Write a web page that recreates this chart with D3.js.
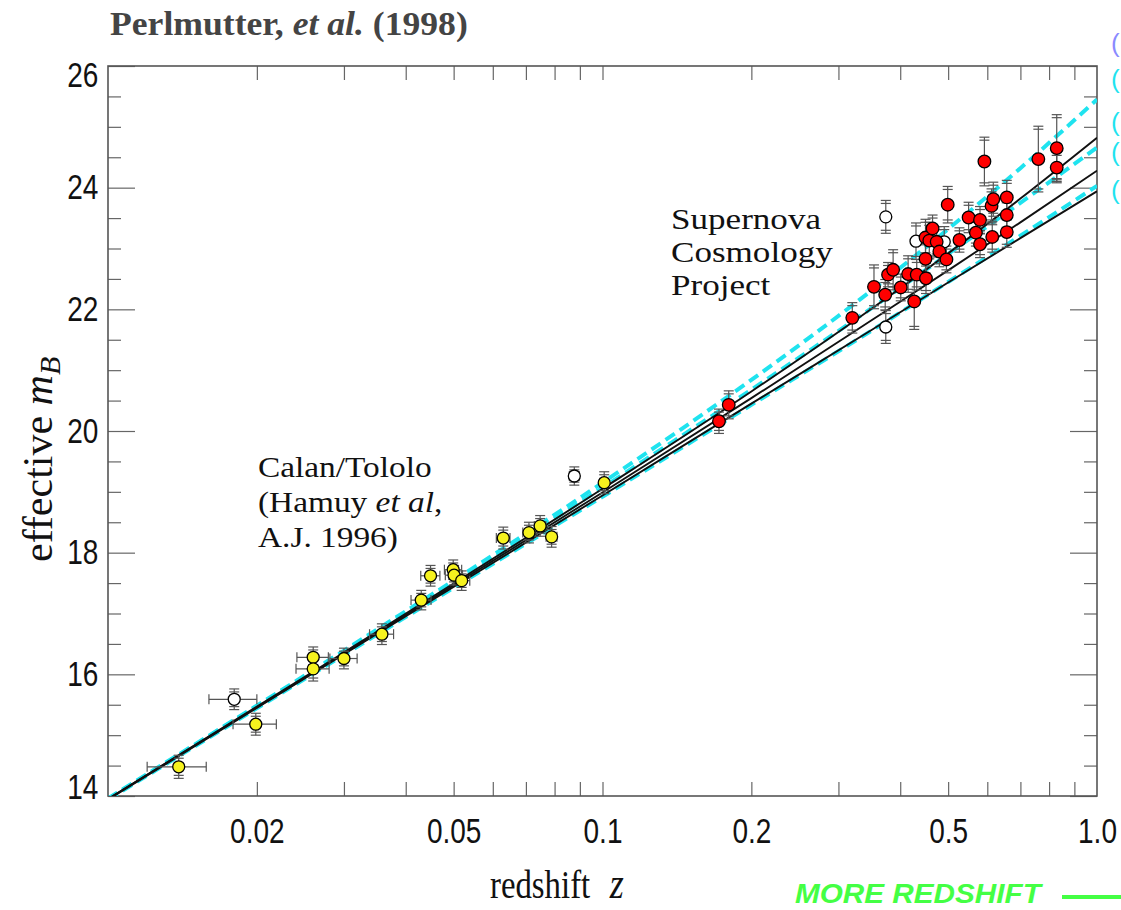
<!DOCTYPE html>
<html><head><meta charset="utf-8">
<script src="https://cdn.jsdelivr.net/npm/d3@7"></script>
<style>
html,body{margin:0;padding:0;background:#fff;overflow:hidden;}
svg{display:block;}
</style></head><body>
<svg id="chart" width="1121" height="910"></svg>
<script>
// ---------------- data ----------------
const xLabelValues = [0.02, 0.05, 0.1, 0.2, 0.5, 1.0];
const xLabelTexts  = ["0.02", "0.05", "0.1", "0.2", "0.5", "1.0"];
const xMinorTicks  = [0.02,0.03,0.04,0.05,0.06,0.07,0.08,0.09,0.1,0.2,0.3,0.4,0.5,0.6,0.7,0.8,0.9];
const yMajorTicks  = [14, 16, 18, 20, 22, 24, 26];
const yMinorTicks  = [14.5,15,15.5,16.5,17,17.5,18.5,19,19.5,20.5,21,21.5,22.5,23,23.5,24.5,25,25.5];

// model curves: redshift grid and effective m_B
const curveZ      = [0.01, 0.03, 0.1, 0.2, 0.35, 0.5, 0.7, 1.0];
const solidA      = [13.95, 16.36, 19.05, 20.65, 22.01, 22.92, 23.82, 24.82];
const solidB      = [13.95, 16.34, 18.99, 20.54, 21.82, 22.64, 23.43, 24.28];
const solidC      = [13.94, 16.33, 18.94, 20.45, 21.66, 22.44, 23.17, 23.94];
const dashedA     = [13.96, 16.39, 19.15, 20.84, 22.31, 23.32, 24.32, 25.45];
const dashedB     = [13.95, 16.37, 19.07, 20.68, 22.02, 22.91, 23.75, 24.66];
const dashedC     = [13.94, 16.32, 18.92, 20.43, 21.65, 22.45, 23.21, 24.03];

// Calan/Tololo (yellow) : z, m_B, z-error, m-error
const ctZ    = [0.0139,0.0199,0.0260,0.0260,0.0300,0.0358,0.0430,0.0449,0.0499,0.0501,0.0519,0.0630,0.0710,0.0748,0.0789,0.1008];
const ctM    = [14.48, 15.18, 16.28, 16.09, 16.26, 16.66, 17.22, 17.62, 17.72, 17.63, 17.54, 18.24, 18.33, 18.44, 18.26, 19.15];
const ctZerr = [0.0019,0.0020,0.0019,0.0020,0.0019,0.0020,0.0020,0.0020,0.0020,0.0020,0.0020,0.0020,0.0020,0.0020,0.0020,0.0020];
const ctMerr = [0.19, 0.18, 0.17, 0.20, 0.17, 0.17, 0.16, 0.17, 0.16, 0.16, 0.16, 0.18, 0.17, 0.17, 0.17, 0.18];

// Supernova Cosmology Project (red)
const scpZ    = [0.172,0.180,0.320,0.354,0.373,0.378,0.387,0.401,0.415,0.427,0.432,0.450,0.451,0.450,0.458,0.465,0.474,0.480,0.496,0.499,0.527,0.550,0.569,0.580,0.580,0.592,0.612,0.614,0.617,0.657,0.657,0.657,0.761,0.829,0.829];
const scpM    = [20.16,20.43,21.86,22.37,22.24,22.57,22.65,22.36,22.58,22.13,22.57,22.83,22.51,23.18,23.13,23.33,23.11,22.95,22.82,23.72,23.14,23.51,23.26,23.47,23.07,24.43,23.70,23.19,23.81,23.84,23.55,23.27,24.47,24.65,24.33];
const scpMerr = [0.20, 0.23, 0.25, 0.36, 0.25, 0.20, 0.33, 0.22, 0.30, 0.46, 0.25, 0.28, 0.25, 0.30, 0.30, 0.22, 0.25, 0.25, 0.22, 0.30, 0.20, 0.25, 0.22, 0.22, 0.22, 0.40, 0.28, 0.25, 0.28, 0.28, 0.25, 0.25, 0.54, 0.55, 0.25];

// open circles (excluded / outlier SNe)
const openZ    = [0.0180, 0.0877, 0.374, 0.374, 0.4305, 0.491];
const openM    = [15.59, 19.26, 23.52, 21.71, 23.12, 23.11];
const openZerr = [0.0020, 0.0020, 0, 0, 0, 0];
const openMerr = [0.17, 0.15, 0.27, 0.27, 0.30, 0.25];

// legend stubs (cut by the right edge in the reference)
const legendY   = [52, 88, 131, 161, 199];
const legendTxt = ["(", "(", "(", "(", "("];
const legendCol = ["#8a8aff", "#1fe3ef", "#1fe3ef", "#1fe3ef", "#1fe3ef"];

// ---------------- drawing ----------------
const svg = d3.select("#chart");
const L = 108, R = 1097, T = 66, B = 796;
const x = d3.scaleLog().domain([0.01, 1.0]).range([L, R]);
const y = d3.scaleLinear().domain([14, 26]).range([B, T]);

const serif = "'Liberation Serif','Times New Roman',Times,serif";
const sans = "'Liberation Sans',Arial,Helvetica,sans-serif";

svg.append("defs").append("clipPath").attr("id","plotclip")
  .append("rect").attr("x",L).attr("y",T).attr("width",R-L).attr("height",B-T);

// axes ticks
const tickCol = "#666";
function cleanAxis(g){ g.select(".domain").remove(); g.selectAll("line").attr("stroke",tickCol).attr("stroke-width",1.2); }

svg.append("g").attr("transform",`translate(0,${B})`)
  .call(d3.axisBottom(x).tickValues(xMinorTicks).tickSize(-14).tickFormat(""))
  .call(cleanAxis);
svg.append("g").attr("transform",`translate(0,${T})`)
  .call(d3.axisTop(x).tickValues(xMinorTicks).tickSize(-14).tickFormat(""))
  .call(cleanAxis);

const xl = svg.append("g").attr("transform",`translate(0,${B})`)
  .call(d3.axisBottom(x).tickValues(xLabelValues).tickSize(0).tickPadding(22)
        .tickFormat((d,i)=>xLabelTexts[i]))
  .call(g=>g.select(".domain").remove());
xl.selectAll("text").attr("font-family",sans).attr("font-size",35).attr("fill","#111")
  .attr("transform","scale(0.8,1)");

svg.append("g").attr("transform",`translate(${L},0)`)
  .call(d3.axisLeft(y).tickValues(yMinorTicks).tickSize(-13).tickFormat(""))
  .call(cleanAxis);
svg.append("g").attr("transform",`translate(${R},0)`)
  .call(d3.axisRight(y).tickValues(yMinorTicks).tickSize(-13).tickFormat(""))
  .call(cleanAxis);
svg.append("g").attr("transform",`translate(${R},0)`)
  .call(d3.axisRight(y).tickValues(yMajorTicks).tickSize(-27).tickFormat(""))
  .call(cleanAxis);
const yl = svg.append("g").attr("transform",`translate(${L},0)`)
  .call(d3.axisLeft(y).tickValues(yMajorTicks).tickSize(-27).tickPadding(12).tickFormat(d3.format("d")))
  .call(cleanAxis);
yl.selectAll("text").attr("font-family",sans).attr("font-size",35).attr("fill","#111")
  .attr("transform","scale(0.8,1)")
  .attr("dy", d => d===26 ? "0.58em" : d===14 ? "0.06em" : "0.32em");

// frame
svg.append("rect").attr("x",L).attr("y",T).attr("width",R-L).attr("height",B-T)
  .attr("fill","none").attr("stroke","#555").attr("stroke-width",1.6);

// model curves
const plot = svg.append("g").attr("clip-path","url(#plotclip)");
const lineGen = d3.line().x(d=>x(d[0])).y(d=>y(d[1])).curve(d3.curveMonotoneX);
[dashedA, dashedB, dashedC].forEach(arr=>{
  plot.append("path").datum(curveZ.map((z,i)=>[z,arr[i]]))
    .attr("d",lineGen).attr("fill","none").attr("stroke","#1fe3ef")
    .attr("stroke-width",4).attr("stroke-dasharray","11,6");
});
[solidA, solidB, solidC].forEach(arr=>{
  plot.append("path").datum(curveZ.map((z,i)=>[z,arr[i]]))
    .attr("d",lineGen).attr("fill","none").attr("stroke","#111")
    .attr("stroke-width",1.9);
});

// error bars
const errCol = "#555";
const eb = svg.append("g").attr("stroke",errCol).attr("stroke-width",1.2).attr("fill","none");
function vErr(z, m, dm){
  const cx = x(z), y1 = y(m+dm), y2 = y(m-dm);
  eb.append("line").attr("x1",cx).attr("x2",cx).attr("y1",y1).attr("y2",y2);
  [[y1,3],[y2,-3]].forEach(([yy,s])=>{
    eb.append("line").attr("x1",cx-5).attr("x2",cx+5).attr("y1",yy).attr("y2",yy);
    eb.append("line").attr("x1",cx-5).attr("x2",cx+5).attr("y1",yy+s).attr("y2",yy+s);
  });
}
function hErr(z, m, dz){
  if(!dz) return;
  const cy = y(m), x1 = x(z-dz), x2 = x(z+dz);
  eb.append("line").attr("x1",x1).attr("x2",x2).attr("y1",cy).attr("y2",cy);
  [x1,x2].forEach(xx=>eb.append("line").attr("x1",xx).attr("x2",xx).attr("y1",cy-5).attr("y2",cy+5));
}
ctZ.forEach((z,i)=>{ hErr(z,ctM[i],ctZerr[i]); vErr(z,ctM[i],ctMerr[i]); });
openZ.forEach((z,i)=>{ hErr(z,openM[i],openZerr[i]); vErr(z,openM[i],openMerr[i]); });
scpZ.forEach((z,i)=>{ vErr(z,scpM[i],scpMerr[i]); });

// points
const pts = svg.append("g").attr("stroke","#000").attr("stroke-width",1.3);
pts.selectAll(".ct").data(ctZ).join("circle")
  .attr("cx",d=>x(d)).attr("cy",(d,i)=>y(ctM[i])).attr("r",6).attr("fill","#f6f21e");
pts.selectAll(".op").data(openZ).join("circle")
  .attr("cx",d=>x(d)).attr("cy",(d,i)=>y(openM[i])).attr("r",6).attr("fill","#fff");
pts.selectAll(".scp").data(scpZ).join("circle")
  .attr("cx",d=>x(d)).attr("cy",(d,i)=>y(scpM[i])).attr("r",6.3).attr("fill","#ff0000");

// title
const title = svg.append("text").attr("transform","translate(110,35) scale(1.08,1)")
  .attr("font-family",serif).attr("font-weight","bold").attr("font-size",33).attr("fill","#444");
title.append("tspan").text("Perlmutter, ");
title.append("tspan").attr("font-style","italic").text("et al.");
title.append("tspan").text(" (1998)");

// axis titles
const yt = svg.append("text").attr("transform","translate(52,562) rotate(-90)")
  .attr("font-family",serif).attr("font-size",42).attr("fill","#111");
yt.append("tspan").text("effective ");
yt.append("tspan").attr("font-style","italic").text("m");
yt.append("tspan").attr("font-style","italic").attr("font-size",30).attr("dy",8).text("B");

const xt = svg.append("text").attr("transform","translate(490,898) scale(0.82,1)")
  .attr("font-family",serif).attr("font-size",40).attr("fill","#111");
xt.append("tspan").text("redshift");
xt.append("tspan").attr("dx",24).attr("font-style","italic").attr("font-size",44).text("z");

// annotations
function block(x0, y0, lh, sx, lines){
  lines.forEach((parts,k)=>{
    const t = svg.append("text").attr("transform",`translate(${x0},${y0+k*lh}) scale(${sx},1)`)
      .attr("font-family",serif).attr("font-size",29).attr("fill","#111");
    parts.forEach(p=>{ const s=t.append("tspan").text(p[0]); if(p[1]) s.attr("font-style","italic"); });
  });
}
block(671, 229, 33, 1.21, [[["Supernova"]],[["Cosmology"]],[["Project"]]]);
block(258, 477, 35, 1.15, [[["Calan/Tololo"]],[["(Hamuy "],["et al",1],[","]],[["A.J. 1996)"]]]);

// cut-off legend on the right edge
legendY.forEach((yy,i)=>{
  svg.append("text").attr("x",1111).attr("y",yy).attr("font-family",sans)
    .attr("font-size",26).attr("fill",legendCol[i]).text(legendTxt[i]);
});

// MORE REDSHIFT
svg.append("text").attr("transform","translate(795,903) scale(1.1,1)").attr("font-family",sans)
  .attr("font-weight","bold").attr("font-style","italic").attr("font-size",27).attr("fill","#44ff44")
  .text("MORE REDSHIFT");
svg.append("line").attr("x1",1062).attr("x2",1121).attr("y1",897).attr("y2",897)
  .attr("stroke","#44ff44").attr("stroke-width",4);
</script>
</body></html>
